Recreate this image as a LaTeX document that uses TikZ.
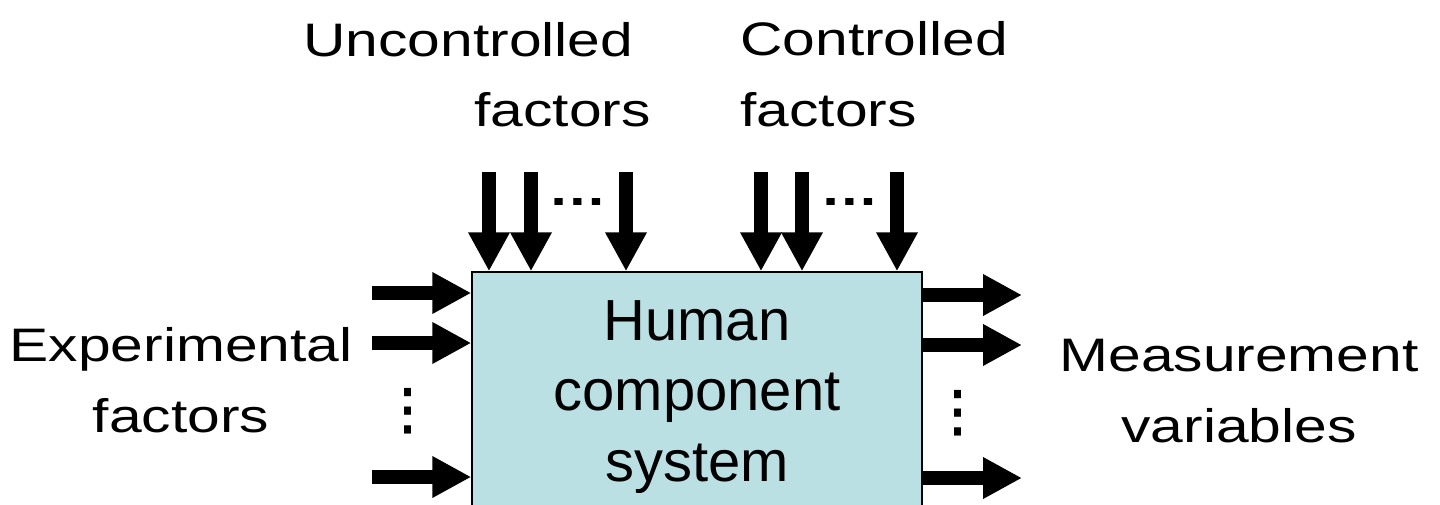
\documentclass[tikz,border=0pt]{standalone}
\usepackage{fontspec}
\setmainfont{Liberation Sans}
\newfontfamily\lblfont{Liberation Sans}[FakeStretch=1.25]
\usetikzlibrary{arrows.meta,calc}
\definecolor{hcsblue}{RGB}{187,224,228}

\begin{document}
\begin{tikzpicture}[x=0.02cm, y=-0.02cm,
  fat/.style={line width=0.27cm, -{Triangle[width=0.78cm,length=0.78cm]}},
  lbl/.style={inner sep=0, font=\lblfont\fontsize{26.75pt}{40.4pt}\selectfont},
  dotsbox/.style={lbl, font=\lblfont\bfseries\fontsize{26.75pt}{40.4pt}\selectfont},
  hcs/.style={draw, line width=0.03cm, fill=hcsblue, minimum width=9cm, minimum height=5cm, inner sep=0, align=center, font=\fontsize{33pt}{40.1pt}\selectfont}]
\clip (0,0) rectangle (1440,504);
% the system
\node[hcs] (box) at (697,397) {Human\\component\\system};
% factors from above
\foreach \x [count=\i] in {489,531,626,761,802,897}
  \coordinate (t\i) at (\x,172);
\foreach \i in {1,...,6}
  \draw[fat] (t\i) -- (t\i |- box.north);
\node[dotsbox] (ud) at (578,202) {…};
\node[dotsbox] (cd) at (850,202) {…};
% inputs and outputs
\foreach \y [count=\i] in {293,343,477}
  \coordinate (l\i) at (372,\y);
\foreach \y [count=\i] in {295,345,478}
  \coordinate (r\i) at (1022,\y);
\foreach \i in {1,2,3}{
  \draw[fat] (l\i) -- (l\i -| box.west);
  \draw[fat] (r\i -| box.east) -- (r\i);
}
\node[dotsbox, rotate=90] (ld) at (408,411) {…};
\node[dotsbox, rotate=90] (rd) at (958,413) {…};
% labels
\node[lbl, anchor=base west] (unc) at (303,56) {Uncontrolled};
\node[lbl, anchor=base west] (uncf) at (474,126) {factors};
\node[lbl, anchor=base west, align=left] (ctl) at (740,126) {Controlled\\factors};
\node[lbl, anchor=base, align=center] (exp) at (181,432) {Experimental\\factors};
\node[lbl, anchor=base, align=center] (meas) at (1239,442) {Measurement\\variables};
\end{tikzpicture}
\end{document}
